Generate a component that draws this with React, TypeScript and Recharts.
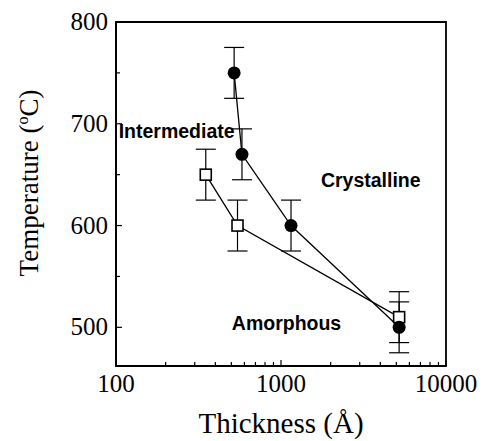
import React from 'react';
import {
  ScatterChart,
  Scatter,
  XAxis,
  YAxis,
  ErrorBar,
  ReferenceArea,
} from 'recharts';

// crystallization temperature vs film thickness
const crystalThickness = [520, 580, 1150, 5200];
const crystalTemp = [750, 670, 600, 500];
const crystalErr = [25, 25, 25, 25];

const interThickness = [350, 545, 5200];
const interTemp = [650, 600, 510];
const interErr = [25, 25, 25];

const regionNames = ['Intermediate', 'Crystalline', 'Amorphous'];
const regionThickness = [233, 3500, 1080];
const regionTemp = [693, 645, 504];

const xTicks = [100, 200, 300, 400, 500, 600, 700, 800, 900, 1000, 2000, 3000, 4000, 5000, 6000, 7000, 8000, 9000, 10000];
const xMajor = [100, 1000, 10000];
const yTicks = [500, 550, 600, 650, 700, 750, 800];
const yMajor = [500, 600, 700, 800];

const crystalData = crystalThickness.map((x, i) => ({ x, y: crystalTemp[i], err: crystalErr[i] }));
const interData = interThickness.map((x, i) => ({ x, y: interTemp[i], err: interErr[i] }));
const regionData = regionNames.map((name, i) => ({ name, x: regionThickness[i], y: regionTemp[i] }));

const serif = '"Liberation Serif", "Times New Roman", serif';
const sans = '"Liberation Sans", Arial, sans-serif';

const XTick = ({ x, y, payload }: any) => {
  const major = xMajor.includes(payload.value);
  return (
    <g>
      <line x1={x} x2={x} y1={y} y2={y - (major ? 6 : 4)} stroke="#000" strokeWidth={1.2} />
      {major && (
        <text x={x} y={y + 26} textAnchor="middle" style={{ fontFamily: serif, fontSize: 25 }} fill="#000">
          {payload.value}
        </text>
      )}
    </g>
  );
};

const YTick = ({ x, y, payload }: any) => {
  const major = yMajor.includes(payload.value);
  return (
    <g>
      <line x1={x} x2={x + (major ? 6 : 4)} y1={y} y2={y} stroke="#000" strokeWidth={1.2} />
      {major && (
        <text x={x - 8} y={y + 8} textAnchor="end" style={{ fontFamily: serif, fontSize: 25 }} fill="#000">
          {payload.value}
        </text>
      )}
    </g>
  );
};

const CircleShape = ({ cx, cy }: any) => <circle cx={cx} cy={cy} r={6.5} fill="#000" />;

const SquareShape = ({ cx, cy }: any) => (
  <rect x={cx - 5.5} y={cy - 5.5} width={11} height={11} fill="#fff" stroke="#000" strokeWidth={1.6} />
);

const RegionLabel = ({ cx, cy, payload }: any) => (
  <text x={cx} y={cy} textAnchor="middle" dominantBaseline="central" style={{ fontFamily: sans, fontWeight: 'bold', fontSize: 19.5 }} fill="#000">
    {payload.name}
  </text>
);

const XTitle = ({ viewBox }: any) => (
  <text x={viewBox.x + viewBox.width / 2} y={viewBox.y + 67} textAnchor="middle" style={{ fontFamily: serif, fontSize: 29 }} fill="#000">
    Thickness (Å)
  </text>
);

const YTitle = ({ viewBox }: any) => {
  const cx = 38;
  const cy = viewBox.y + viewBox.height / 2 - 11;
  return (
    <text x={cx} y={cy} transform={`rotate(-90 ${cx} ${cy})`} textAnchor="middle" style={{ fontFamily: serif, fontSize: 27 }} fill="#000">
      Temperature (
      <tspan fontSize={16} dy={-10}>o</tspan>
      <tspan dy={10}>C)</tspan>
    </text>
  );
};

export default function App() {
  return (
    <div style={{ position: 'absolute', left: 0, top: 0, background: '#fff' }}>
      <ScatterChart width={483} height={441} margin={{ top: 22, right: 37, bottom: 0, left: 0 }}>
        <XAxis
          dataKey="x"
          type="number"
          scale="log"
          domain={[100, 10000]}
          ticks={xTicks}
          interval={0}
          allowDataOverflow
          height={75}
          tickSize={0}
          tickMargin={0}
          tickLine={false}
          tick={<XTick />}
          axisLine={{ stroke: '#000', strokeWidth: 1.8 }}
          label={<XTitle />}
        />
        <YAxis
          dataKey="y"
          type="number"
          domain={[462, 800]}
          ticks={yTicks}
          interval={0}
          allowDataOverflow
          width={116}
          tickSize={0}
          tickMargin={0}
          tickLine={false}
          tick={<YTick />}
          axisLine={{ stroke: '#000', strokeWidth: 1.8 }}
          label={<YTitle />}
        />
        <ReferenceArea x1={100} x2={10000} y1={462} y2={800} fill="none" stroke="#000" strokeWidth={1.8} ifOverflow="visible" />
        <Scatter
          data={interData}
          line={{ stroke: '#000', strokeWidth: 1.3 }}
          shape={<SquareShape />}
          isAnimationActive={false}
        >
          <ErrorBar dataKey="err" direction="y" width={10} stroke="#000" strokeWidth={1.2} isAnimationActive={false} />
        </Scatter>
        <Scatter
          data={crystalData}
          line={{ stroke: '#000', strokeWidth: 1.3 }}
          shape={<CircleShape />}
          isAnimationActive={false}
        >
          <ErrorBar dataKey="err" direction="y" width={10} stroke="#000" strokeWidth={1.2} isAnimationActive={false} />
        </Scatter>
        <Scatter data={regionData} shape={<RegionLabel />} isAnimationActive={false} />
      </ScatterChart>
    </div>
  );
}
